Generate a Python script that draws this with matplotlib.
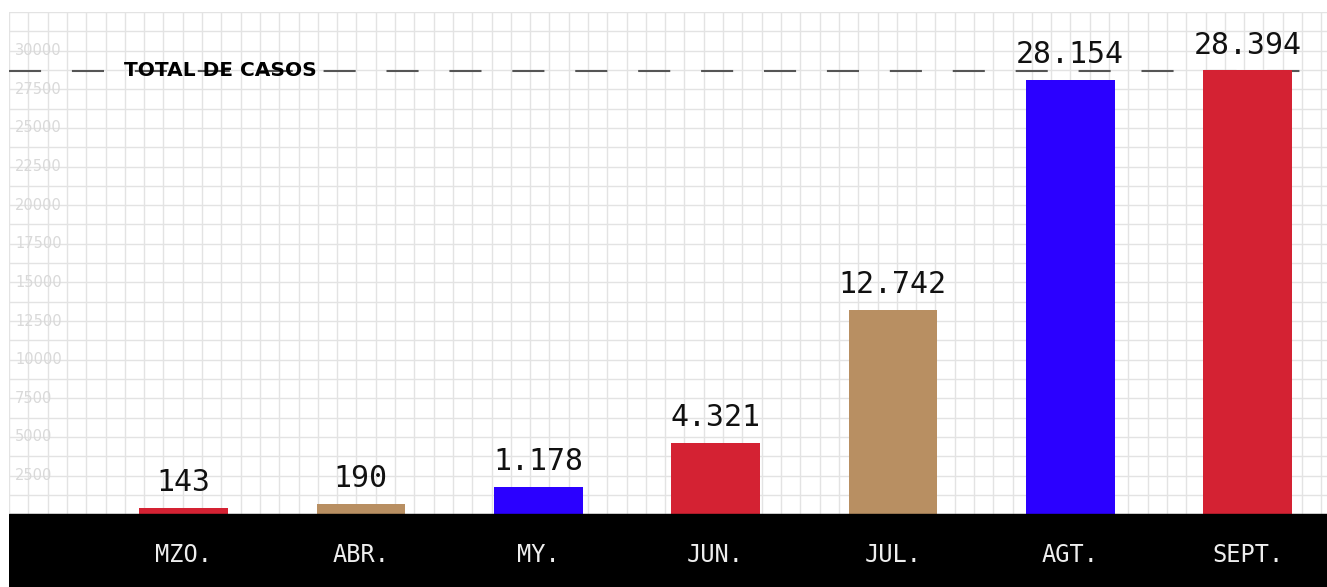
import matplotlib
matplotlib.use("Agg")
import matplotlib.pyplot as plt
import matplotlib.transforms as mtransforms
import numpy as np

# ---- data ----
months = ["MZO.", "ABR.", "MY.", "JUN.", "JUL.", "AGT.", "SEPT."]
bar_heights = [410, 665, 1790, 4610, 13210, 28090, 28730]   # as drawn in the picture
value_labels = ["143", "190", "1.178", "4.321", "12.742", "28.154", "28.394"]
bar_colors = ["#d42233", "#b88f62", "#2b00ff", "#d42233", "#b88f62", "#2b00ff", "#d42233"]
ytick_values = [2500, 5000, 7500, 10000, 12500, 15000, 17500, 20000, 22500, 25000, 27500, 30000]
total_line = 28700
total_label = "TOTAL DE CASOS"

W, H = 1327, 587
fig = plt.figure(figsize=(W / 100, H / 100), dpi=100)
fig.patch.set_facecolor("white")
ax = fig.add_axes([9 / W, 0, 1 - 9 / W, (H - 12) / H])

x = np.arange(len(months))
xmin, xmax = -0.984, 6.448
ymin, ymax = -4708, 32500
ax.set_xlim(xmin, xmax)
ax.set_ylim(ymin, ymax)

# grid
px_per_unit_x = (W - 9) / (xmax - xmin)
vgrid = np.arange(xmin, xmax, 19.3 / px_per_unit_x)
for gx in vgrid:
    ax.axvline(gx, color="#e3e3e3", lw=1.0, zorder=0)
for gy in np.arange(0, ymax + 1, 1250):
    ax.axhline(gy, color="#e3e3e3", lw=1.0, zorder=0)

# bars
ax.bar(x, bar_heights, width=0.5, color=bar_colors, zorder=2)

# value labels
for xi, h, lab in zip(x, bar_heights, value_labels):
    ax.annotate(lab, (xi, h), xytext=(0, 12), textcoords="offset points",
                ha="center", va="baseline", fontsize=21.5,
                family="DejaVu Sans Mono", color="#111111", zorder=4)

# black band
ax.axhspan(ymin, 0, color="black", zorder=3)
for xi, m in zip(x, months):
    ax.text(xi, -2650, m, ha="center", va="center", fontsize=17,
            family="DejaVu Sans Mono", color="#eeeeee", zorder=4)

# y tick labels (inside)
trans = mtransforms.blended_transform_factory(ax.transAxes, ax.transData)
for v in ytick_values:
    ax.text(6 / (W - 9), v, str(v), transform=trans, ha="left", va="center",
            fontsize=10.5, family="DejaVu Sans", color="#d9d9d9", zorder=1)

# total line
ax.axhline(total_line, color="#555555", lw=1.5, dashes=(15.4, 14.8), zorder=1.5)
ax.text((124 - 9) / (W - 9), total_line, total_label, transform=trans,
        ha="left", va="center", fontsize=14.5, fontweight="bold",
        family="DejaVu Sans", color="black", zorder=4)

ax.set_xticks([])
ax.set_yticks([])
for s in ax.spines.values():
    s.set_visible(False)

fig.savefig("out.png", dpi=100, facecolor="white")
